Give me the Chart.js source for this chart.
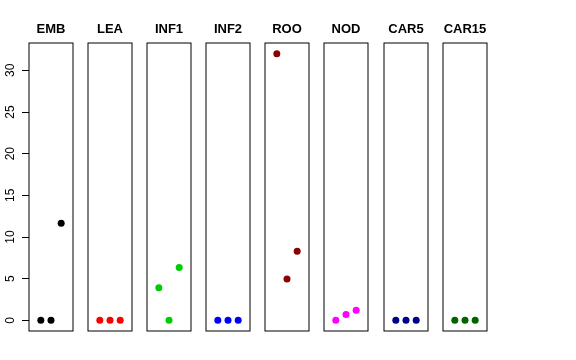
<!DOCTYPE html>
<html>
<head>
<meta charset="utf-8">
<script src="https://cdn.jsdelivr.net/npm/chart.js@4/dist/chart.umd.min.js"></script>
<style>
    html, body { margin: 0; padding: 0; background: #ffffff; }
    #wrap { position: relative; width: 576px; height: 360px; overflow: hidden; background: #ffffff; }
    #wrap canvas { position: absolute; top: 0; }
</style>
</head>
<body>
<div id="wrap"></div>
<script>
// one small panel per tissue, three replicates each
const panelNames = ['EMB', 'LEA', 'INF1', 'INF2', 'ROO', 'NOD', 'CAR5', 'CAR15'];
const panelColors = ['#000000', '#ff0000', '#00cd00', '#0000ff', '#8b0000', '#ff00ff', '#00008b', '#006400'];
const replicates = [1, 2, 3];

const embValues = [0, 0, 11.65];
const leaValues = [0, 0, 0];
const inf1Values = [3.9, 0, 6.35];
const inf2Values = [0, 0, 0];
const rooValues = [32, 4.95, 8.3];
const nodValues = [0, 0.7, 1.2];
const car5Values = [0, 0, 0];
const car15Values = [0, 0, 0];

const yTicks = [0, 5, 10, 15, 20, 25, 30];

const panelValues = [embValues, leaValues, inf1Values, inf2Values, rooValues, nodValues, car5Values, car15Values];

const wrap = document.querySelector('#wrap');
const panelLefts = [29, 88, 147, 206, 265, 324, 384, 443];
const panelWidth = 44;
const plotTop = 43;
const plotBottom = 331;
const sidePad = 7;
const yMin = -1.28;
const yMax = 33.28;
const fontFamily = '"Liberation Sans", Arial, Helvetica, sans-serif';

const panelBox = {
    id: 'panelBox',
    afterDatasetsDraw(chart) {
        const { ctx, chartArea } = chart;
        ctx.save();
        ctx.strokeStyle = '#000000';
        ctx.lineWidth = 1;
        ctx.strokeRect(chartArea.left, chartArea.top, chartArea.right - chartArea.left, chartArea.bottom - chartArea.top);
        ctx.restore();
    },
};

function addCanvas(left, width) {
    const canvas = document.createElement('canvas');
    canvas.width = width;
    canvas.height = 360;
    canvas.style.left = left + 'px';
    canvas.style.width = width + 'px';
    canvas.style.height = '360px';
    wrap.appendChild(canvas);
    return canvas;
}

// shared y axis on the left, its own small chart
new Chart(addCanvas(0, panelLefts[0] + 10), {
    type: 'scatter',
    data: { datasets: [{ data: [] }] },
    options: {
        responsive: false,
        animation: false,
        devicePixelRatio: 1,
        layout: { padding: { left: 0, right: 0, top: plotTop, bottom: 360 - plotBottom } },
        plugins: { legend: { display: false }, tooltip: { enabled: false } },
        scales: {
            x: { type: 'linear', display: false, min: -0.16, max: 4.16 },
            y: {
                type: 'linear',
                min: yMin,
                max: yMax,
                afterBuildTicks: (scale) => {
                    scale.ticks = yTicks.map((value) => ({ value }));
                },
                afterFit: (scale) => {
                    scale.width = panelLefts[0];
                },
                border: { display: false },
                grid: {
                    drawOnChartArea: false,
                    drawTicks: true,
                    tickLength: 7,
                    tickColor: '#000000',
                    tickWidth: 1,
                },
                ticks: {
                    color: '#000000',
                    font: { family: fontFamily, size: 12 },
                    minRotation: 90,
                    maxRotation: 90,
                    crossAlign: 'center',
                    padding: 5,
                },
            },
        },
    },
});

panelNames.forEach((name, index) => {
    const canvas = addCanvas(panelLefts[index] - sidePad, panelWidth + sidePad * 2);
    const titlePadTop = 22;
    const titleLine = 13 * 1.2;

    new Chart(canvas, {
        type: 'scatter',
        data: {
            datasets: [{
                data: replicates.map((x, i) => ({ x, y: panelValues[index][i] })),
                backgroundColor: panelColors[index],
                borderWidth: 0,
                pointRadius: 3.5,
                pointHoverRadius: 3.5,
            }],
        },
        options: {
            responsive: false,
            animation: false,
            devicePixelRatio: 1,
            layout: {
                padding: { left: sidePad, right: sidePad, top: 0, bottom: 360 - plotBottom },
            },
            plugins: {
                legend: { display: false },
                tooltip: { enabled: false },
                title: {
                    display: true,
                    text: name,
                    color: '#000000',
                    font: { family: fontFamily, size: 13, weight: 'bold', lineHeight: 1.2 },
                    padding: { top: titlePadTop, bottom: plotTop - titlePadTop - titleLine },
                },
            },
            scales: {
                x: { type: 'linear', display: false, min: -0.16, max: 4.16 },
                y: { type: 'linear', display: false, min: yMin, max: yMax },
            },
        },
        plugins: [panelBox],
    });
});
</script>
</body>
</html>
